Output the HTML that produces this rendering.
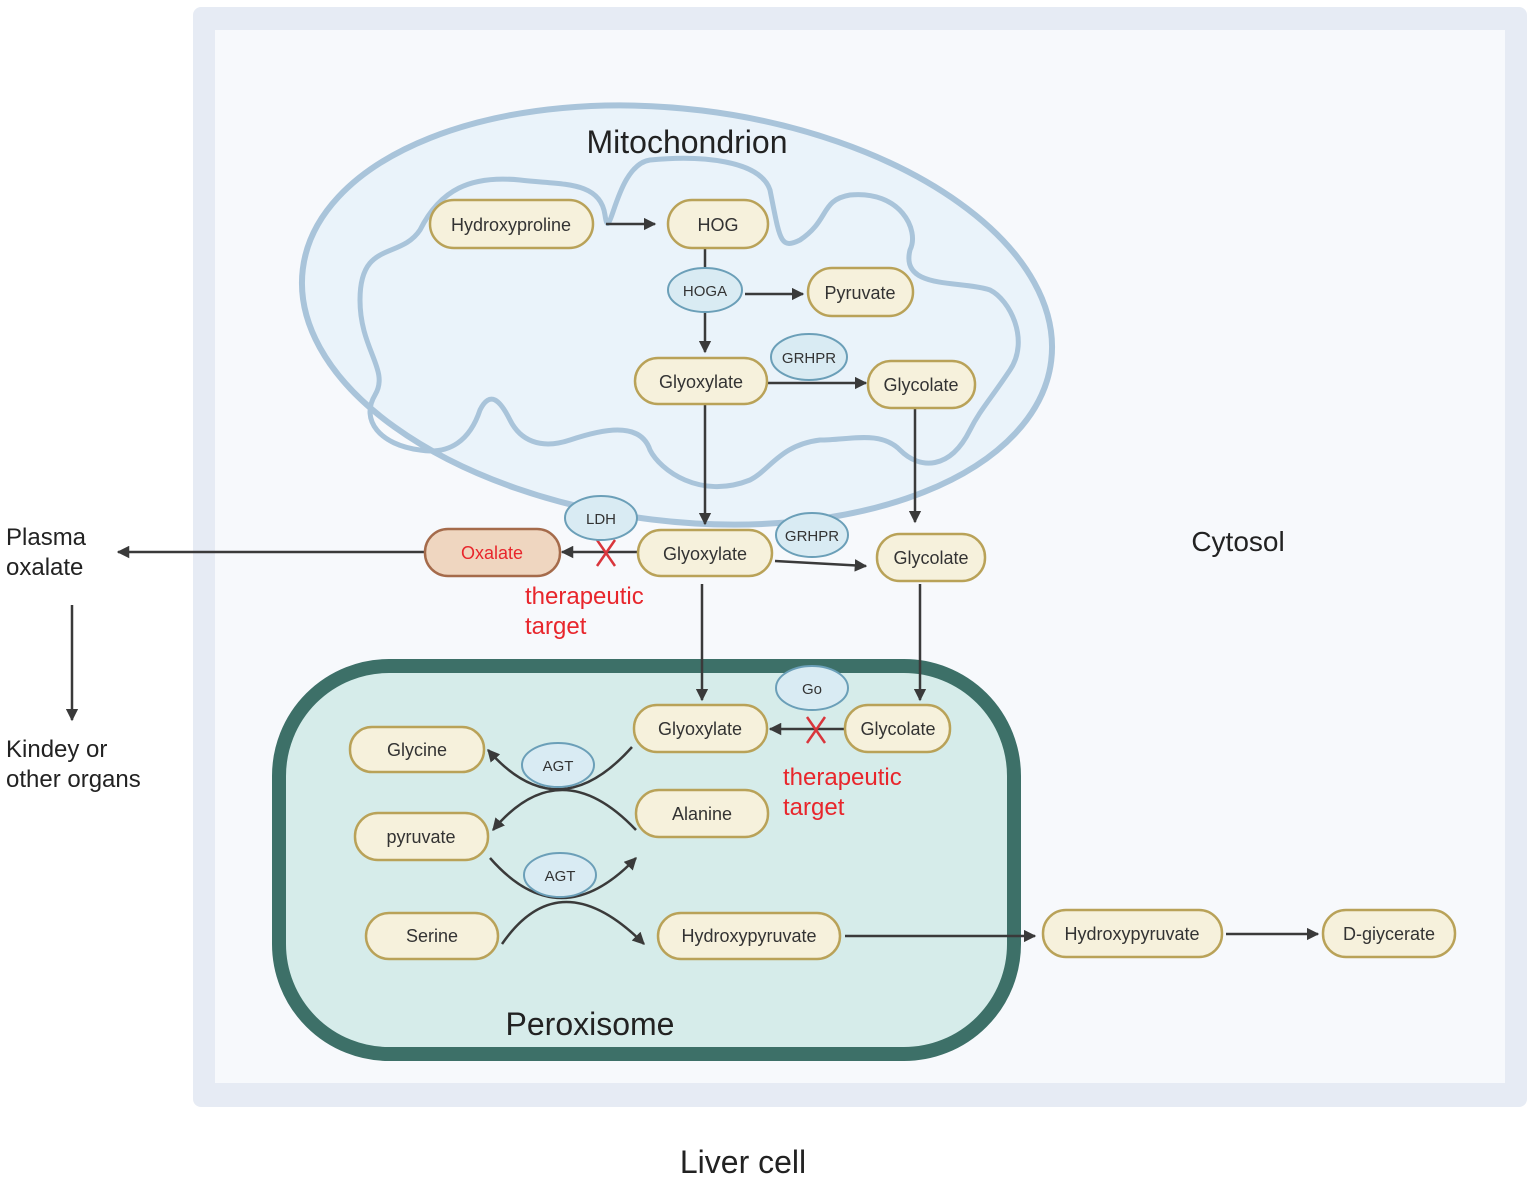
<!DOCTYPE html>
<html><head><meta charset="utf-8"><style>
html,body{margin:0;padding:0;background:#fff}
svg{display:block}
text{font-family:"Liberation Sans",Arial,sans-serif}
</style></head><body>
<svg width="1535" height="1182" viewBox="0 0 1535 1182" xmlns="http://www.w3.org/2000/svg">
<defs>
<marker id="a" viewBox="0 0 10 10" refX="9" refY="5" markerWidth="5" markerHeight="5" orient="auto-start-reverse"><path d="M0,0L10,5L0,10z" fill="#3a3a3a"/></marker>
</defs>
<rect x="193" y="7" width="1334" height="1100" rx="8" fill="#e6ebf4"/>
<rect x="215" y="30" width="1290" height="1053" fill="#f7f9fc"/>
<!-- mitochondrion -->
<ellipse cx="677" cy="315" rx="377" ry="206" transform="rotate(7 677 315)" fill="#eaf3fa" stroke="#a9c4da" stroke-width="6"/>
<path d="M360,300 C360,240 400,260 420,230 C440,190 470,175 520,180 C560,185 600,180 605,215 C610,250 615,165 650,160 C700,155 760,160 770,190 C780,240 780,250 800,240 C830,220 820,200 850,195 C900,190 920,230 910,250 C900,290 960,280 990,290 C1010,300 1030,340 1010,370 C990,400 980,410 970,430 C950,470 920,470 900,450 C880,430 850,440 820,440 C780,445 770,470 750,480 C700,500 660,470 650,450 C640,420 600,430 570,440 C540,450 520,440 510,420 C500,400 490,390 480,410 C470,440 450,455 420,450 C380,445 360,420 375,395 C390,370 360,350 360,300 Z" fill="none" stroke="#a9c4da" stroke-width="5"/>
<!-- peroxisome -->
<rect x="279" y="666" width="735" height="388" rx="110" fill="#d6ecea" stroke="#3d7068" stroke-width="14"/>
<g font-size="32" fill="#222">
<text x="687" y="153" text-anchor="middle">Mitochondrion</text>
<text x="590" y="1035" text-anchor="middle">Peroxisome</text>
<text x="743" y="1173" text-anchor="middle">Liver cell</text>
</g>
<text x="1238" y="551" text-anchor="middle" font-size="28" fill="#222">Cytosol</text>
<g font-size="24" fill="#222">
<text x="6" y="545">Plasma</text><text x="6" y="575">oxalate</text>
<text x="6" y="757">Kindey or</text><text x="6" y="787">other organs</text>
</g>
<g font-size="24" fill="#e8262c">
<text x="525" y="604">therapeutic</text><text x="525" y="634">target</text>
<text x="783" y="785">therapeutic</text><text x="783" y="815">target</text>
</g>
<!-- arrows -->
<g stroke="#3a3a3a" stroke-width="2.5" fill="none" marker-end="url(#a)">
<line x1="606" y1="224" x2="655" y2="224"/>
<line x1="705" y1="312" x2="705" y2="352"/>
<line x1="745" y1="294" x2="803" y2="294"/>
<line x1="767" y1="383" x2="866" y2="383"/>
<line x1="915" y1="408" x2="915" y2="522"/>
<line x1="705" y1="404" x2="705" y2="524"/>
<line x1="638" y1="552" x2="562" y2="552"/>
<line x1="425" y1="552" x2="118" y2="552"/>
<line x1="72" y1="605" x2="72" y2="720"/>
<line x1="775" y1="561" x2="866" y2="566"/>
<line x1="702" y1="584" x2="702" y2="700"/>
<line x1="920" y1="584" x2="920" y2="700"/>
<line x1="845" y1="729" x2="770" y2="729"/>
<line x1="845" y1="936" x2="1035" y2="936"/>
<line x1="1226" y1="934" x2="1318" y2="934"/>
<path d="M632,747 Q558,830 488,750"/>
<path d="M636,830 Q560,750 493,830"/>
<path d="M490,858 Q560,938 636,858"/>
<path d="M502,944 Q560,860 644,944"/>
</g>
<line x1="705" y1="248" x2="705" y2="268" stroke="#3a3a3a" stroke-width="2.5"/>
<g stroke="#d9363c" stroke-width="2.5">
<line x1="597" y1="540" x2="615" y2="566"/><line x1="615" y1="540" x2="597" y2="566"/>
<line x1="807" y1="717" x2="825" y2="743"/><line x1="825" y1="717" x2="807" y2="743"/>
</g>
<!-- enzymes -->
<g fill="#d9ebf3" stroke="#6b9fb8" stroke-width="2">
<ellipse cx="705" cy="290" rx="37" ry="22"/>
<ellipse cx="809" cy="357" rx="38" ry="23"/>
<ellipse cx="601" cy="518" rx="36" ry="22"/>
<ellipse cx="812" cy="535" rx="36" ry="22"/>
<ellipse cx="812" cy="688" rx="36" ry="22"/>
<ellipse cx="558" cy="765" rx="36" ry="22"/>
<ellipse cx="560" cy="875" rx="36" ry="22"/>
</g>
<g font-size="15" fill="#333" text-anchor="middle">
<text x="705" y="296">HOGA</text><text x="809" y="363">GRHPR</text><text x="601" y="524">LDH</text>
<text x="812" y="541">GRHPR</text><text x="812" y="694">Go</text><text x="558" y="771">AGT</text><text x="560" y="881">AGT</text>
</g>
<!-- pills -->
<g fill="#f6f1dc" stroke="#b9a258" stroke-width="2.5">
<rect x="430" y="200" width="163" height="48" rx="24"/>
<rect x="668" y="200" width="100" height="48" rx="24"/>
<rect x="808" y="268" width="105" height="48" rx="24"/>
<rect x="635" y="358" width="132" height="46" rx="23"/>
<rect x="868" y="361" width="107" height="47" rx="23"/>
<rect x="638" y="530" width="134" height="46" rx="23"/>
<rect x="877" y="534" width="108" height="47" rx="23"/>
<rect x="634" y="705" width="133" height="47" rx="23"/>
<rect x="845" y="705" width="105" height="47" rx="23"/>
<rect x="350" y="727" width="134" height="45" rx="22"/>
<rect x="636" y="790" width="132" height="47" rx="23"/>
<rect x="355" y="813" width="133" height="47" rx="23"/>
<rect x="366" y="913" width="132" height="46" rx="23"/>
<rect x="658" y="913" width="182" height="46" rx="23"/>
<rect x="1043" y="910" width="179" height="47" rx="23"/>
<rect x="1323" y="910" width="132" height="47" rx="23"/>
</g>
<rect x="425" y="529" width="135" height="47" rx="23" fill="#efd6c0" stroke="#a56b4b" stroke-width="2.5"/>
<text x="492" y="559" font-size="18" fill="#e8262c" text-anchor="middle">Oxalate</text>
<g font-size="18" fill="#333" text-anchor="middle">
<text x="511" y="231">Hydroxyproline</text>
<text x="718" y="231">HOG</text>
<text x="860" y="299">Pyruvate</text>
<text x="701" y="388">Glyoxylate</text>
<text x="921" y="391">Glycolate</text>
<text x="705" y="560">Glyoxylate</text>
<text x="931" y="564">Glycolate</text>
<text x="700" y="735">Glyoxylate</text>
<text x="898" y="735">Glycolate</text>
<text x="417" y="756">Glycine</text>
<text x="702" y="820">Alanine</text>
<text x="421" y="843">pyruvate</text>
<text x="432" y="942">Serine</text>
<text x="749" y="942">Hydroxypyruvate</text>
<text x="1132" y="940">Hydroxypyruvate</text>
<text x="1389" y="940">D-giycerate</text>
</g>
</svg>
</body></html>
